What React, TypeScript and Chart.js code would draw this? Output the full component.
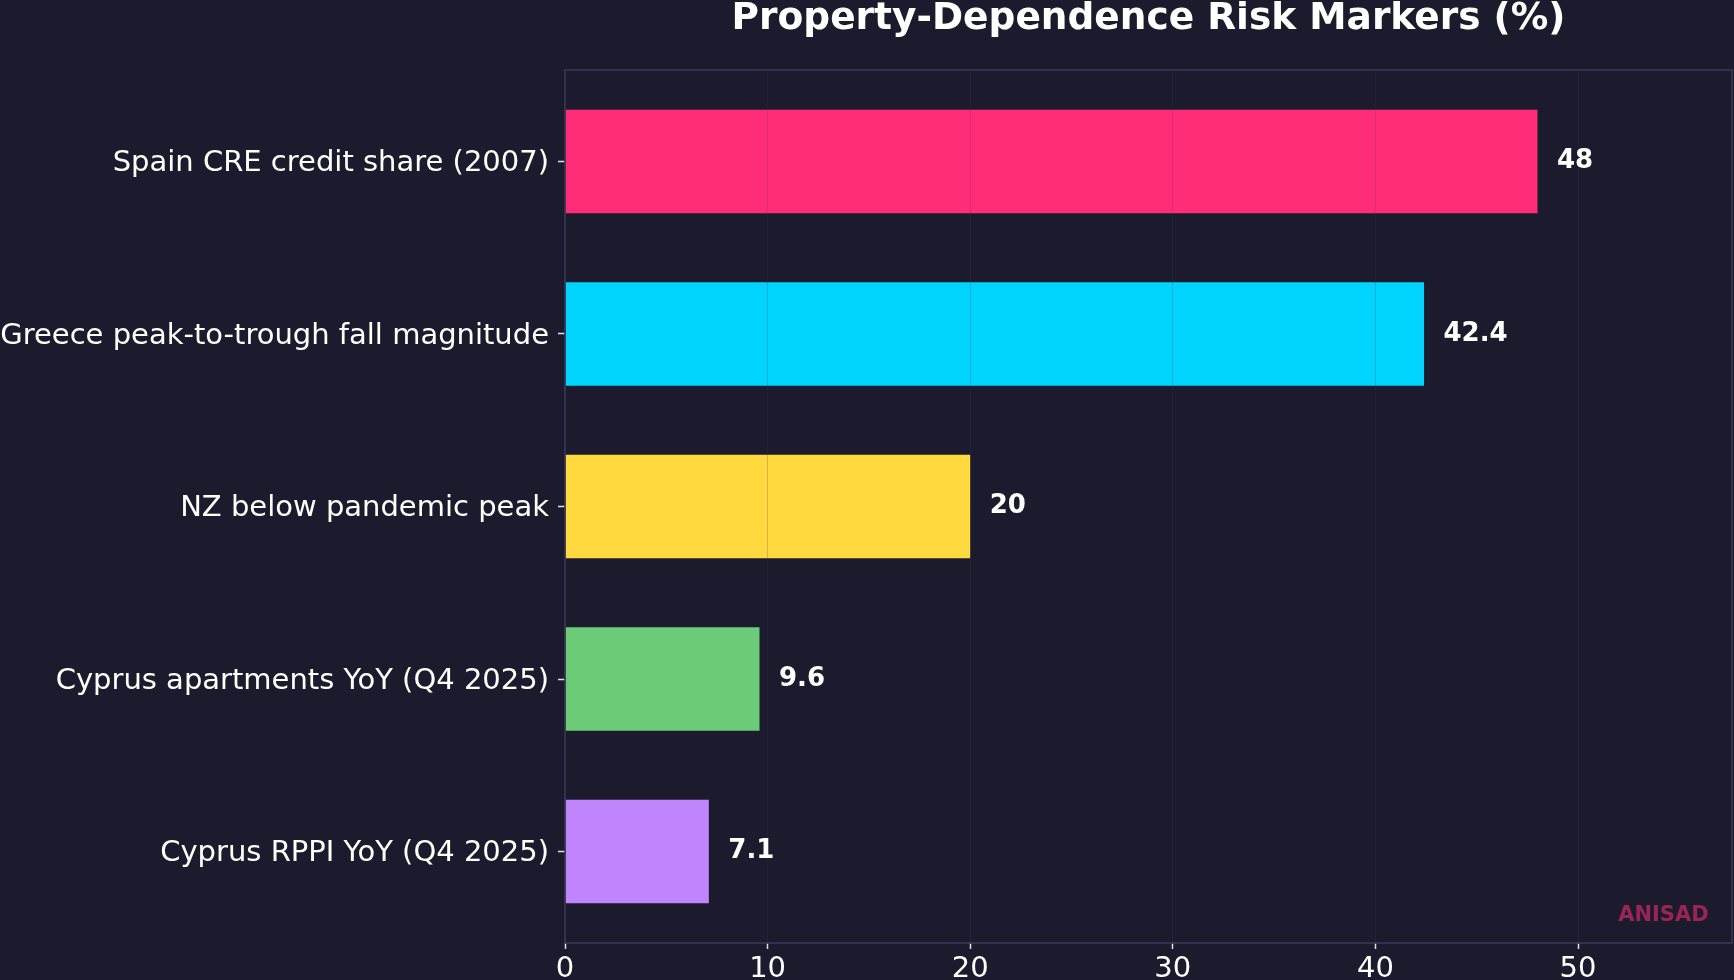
import React, { useEffect, useRef } from "react";
import { Chart, registerables } from "chart.js";

Chart.register(...registerables);

const categories = [
  "Spain CRE credit share (2007)",
  "Greece peak-to-trough fall magnitude",
  "NZ below pandemic peak",
  "Cyprus apartments YoY (Q4 2025)",
  "Cyprus RPPI YoY (Q4 2025)",
];
const values = [48, 42.4, 20, 9.6, 7.1];
const barColors = ["#ff2d78", "#00d4ff", "#ffd93d", "#6bcb77", "#c084fc"];
const xTickValues = [0, 10, 20, 30, 40, 50];
const chartTitle = "Property-Dependence Risk Markers (%)";
const watermark = "ANISAD";

const BG = "#1c1b2e";
const SPINE = "#3a3856";
const FONT = "'DejaVu Sans', 'Liberation Sans', sans-serif";
const BAR_HEIGHT = 0.6;

export default function App() {
  const canvasRef = useRef<HTMLCanvasElement | null>(null);

  useEffect(() => {
    const canvas = canvasRef.current;
    if (!canvas) return;

    const n = categories.length;
    const yMargin = 0.05 * (n - 1 + BAR_HEIGHT);
    const xMax = Math.max(...values) * 1.2;
    const labelGap = Math.max(...values) * 0.02;

    const decor = {
      id: "decor",
      beforeDraw(chart: any) {
        const ctx = chart.ctx;
        ctx.save();
        ctx.fillStyle = BG;
        ctx.fillRect(0, 0, chart.width, chart.height);
        ctx.restore();
      },
      afterDraw(chart: any) {
        const ctx = chart.ctx;
        const area = chart.chartArea;
        const xs = chart.scales.x;
        const ys = chart.scales.y;
        ctx.save();

        // frame around the plot area
        ctx.strokeStyle = SPINE;
        ctx.lineWidth = 1.6;
        ctx.strokeRect(area.left, area.top, area.right - area.left, area.bottom - area.top);

        // value labels at the end of each bar
        ctx.fillStyle = "#ffffff";
        ctx.font = `bold 26px ${FONT}`;
        ctx.textAlign = "left";
        ctx.textBaseline = "middle";
        values.forEach((v, i) => {
          ctx.fillText(String(v), xs.getPixelForValue(v + labelGap), ys.getPixelForValue(i));
        });

        // title centred over the plot area
        ctx.font = `bold 37.5px ${FONT}`;
        ctx.textAlign = "center";
        ctx.textBaseline = "alphabetic";
        ctx.fillText(chartTitle, (area.left + area.right) / 2, 29);

        // signature in the lower right corner
        ctx.font = `bold 21px ${FONT}`;
        ctx.fillStyle = "rgba(255, 45, 120, 0.55)";
        ctx.textAlign = "right";
        const w = area.right - area.left;
        ctx.fillText(watermark, area.right - 0.02 * w, area.bottom - 22);

        ctx.restore();
      },
    };

    const chart = new Chart(canvas, {
      type: "bar",
      data: {
        datasets: [
          {
            data: values.map((v, i) => ({ x: v, y: i })),
            backgroundColor: barColors,
            borderWidth: 0,
            barPercentage: BAR_HEIGHT,
            categoryPercentage: 1,
          },
        ],
      },
      options: {
        indexAxis: "y",
        animation: false,
        responsive: false,
        devicePixelRatio: 1,
        layout: { padding: { left: 0, top: 70, right: 2, bottom: 0 } },
        plugins: {
          legend: { display: false },
          tooltip: { enabled: false },
          title: { display: false },
        },
        scales: {
          x: {
            type: "linear",
            min: 0,
            max: xMax,
            afterBuildTicks: (scale: any) => {
              scale.ticks = xTickValues.map((v) => ({ value: v }));
            },
            afterFit: (scale: any) => {
              scale.height = 37;
            },
            ticks: {
              color: "#ffffff",
              font: { family: FONT, size: 29 },
              padding: 3,
              maxRotation: 0,
              autoSkip: false,
            },
            grid: {
              z: 1,
              color: "rgba(55, 55, 95, 0.22)",
              lineWidth: 1,
              drawOnChartArea: true,
              drawTicks: true,
              tickLength: 6,
              tickColor: "#e0e0e8",
              tickWidth: 1.5,
            },
            border: { display: false },
          },
          y: {
            type: "linear",
            reverse: true,
            offset: false,
            min: -BAR_HEIGHT / 2 - yMargin,
            max: n - 1 + BAR_HEIGHT / 2 + yMargin,
            afterBuildTicks: (scale: any) => {
              scale.ticks = categories.map((_, i) => ({ value: i }));
            },
            afterFit: (scale: any) => {
              scale.width = 565;
            },
            ticks: {
              color: "#ffffff",
              font: { family: FONT, size: 29 },
              padding: 9,
              labelOffset: 2,
              autoSkip: false,
              callback: (v: any) => categories[v] ?? "",
            },
            grid: {
              offset: false,
              drawOnChartArea: false,
              drawTicks: true,
              tickLength: 7,
              tickColor: "#e0e0e8",
              tickWidth: 1.5,
            },
            border: { display: false },
          },
        },
      },
      plugins: [decor],
    } as any);

    return () => chart.destroy();
  }, []);

  return (
    <div style={{ position: "absolute", left: 0, top: 0, width: 1734, height: 980, background: BG }}>
      <canvas ref={canvasRef} width={1734} height={980} style={{ display: "block" }} />
    </div>
  );
}
